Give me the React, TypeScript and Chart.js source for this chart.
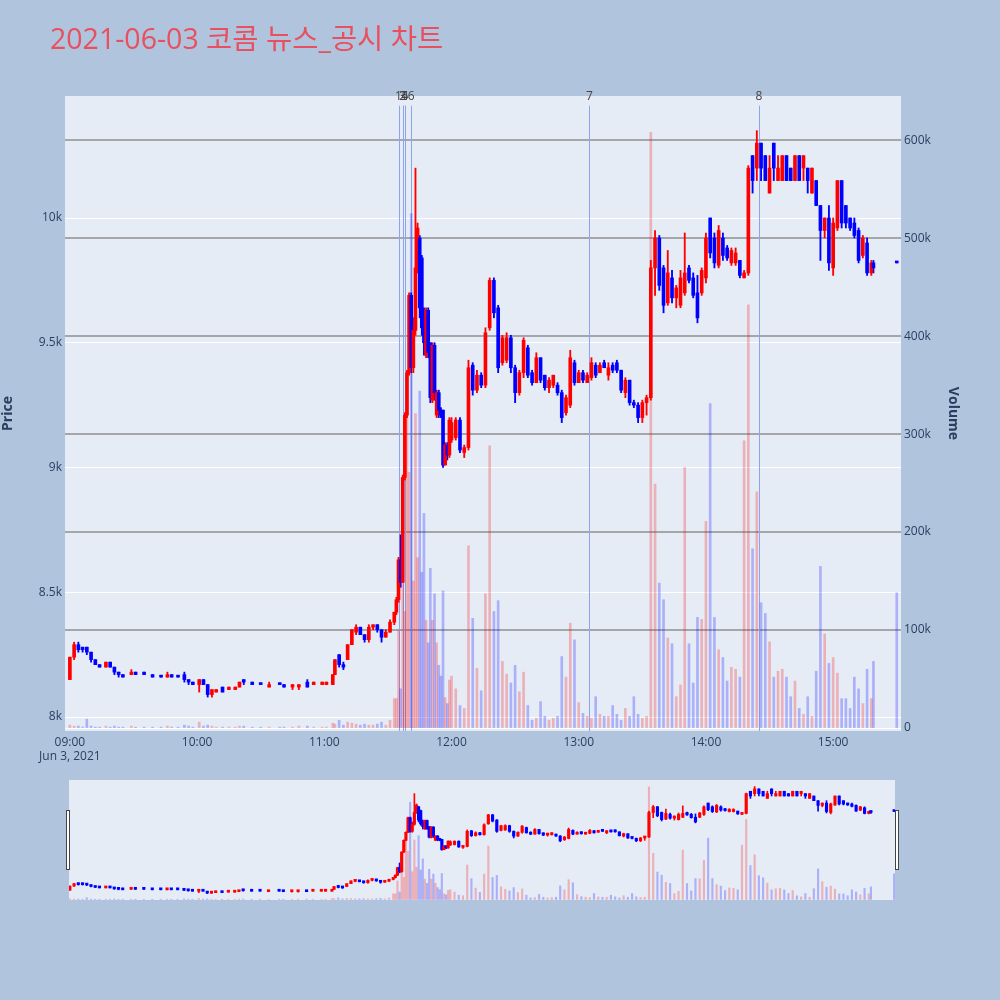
import { useEffect, useRef } from "react";
import { Chart, registerables } from "chart.js";

Chart.register(...registerables);

const titleText = "2021-06-03 코콤 뉴스_공시 차트";
const dateLabel = "Jun 3, 2021";

const times = [
  "09:00","09:02","09:04","09:06","09:08","09:10","09:12","09:14","09:17","09:19",
  "09:21","09:23","09:25","09:29","09:31","09:35","09:39","09:43","09:46","09:48",
  "09:51","09:54","09:56","09:58","10:01","10:03","10:05","10:07","10:09","10:12",
  "10:15","10:18","10:20","10:22","10:26","10:30","10:34","10:39","10:41","10:45",
  "10:48","10:52","10:55","10:59","11:01","11:04","11:05","11:07","11:09","11:11",
  "11:13","11:15","11:17","11:19","11:21","11:23","11:25","11:27","11:29","11:31",
  "11:33","11:34","11:35","11:36","11:37","11:38","11:39","11:40","11:41","11:42",
  "11:43","11:44","11:45","11:46","11:47","11:48","11:49","11:50","11:51","11:52",
  "11:53","11:54","11:55","11:56","11:57","11:58","11:59","12:00","12:02","12:04",
  "12:06","12:08","12:10","12:12","12:14","12:16","12:18","12:20","12:22","12:24",
  "12:26","12:28","12:30","12:32","12:34","12:36","12:38","12:40","12:42","12:44",
  "12:46","12:48","12:50","12:52","12:54","12:56","12:58","13:00","13:02","13:04",
  "13:06","13:08","13:10","13:12","13:14","13:16","13:18","13:20","13:22","13:24",
  "13:26","13:28","13:30","13:32","13:34","13:36","13:38","13:40","13:42","13:44",
  "13:46","13:48","13:50","13:52","13:54","13:56","13:58","14:00","14:02","14:04",
  "14:06","14:08","14:10","14:12","14:14","14:16","14:18","14:20","14:22","14:24",
  "14:26","14:28","14:30","14:32","14:34","14:36","14:38","14:40","14:42","14:44",
  "14:46","14:48","14:50","14:52","14:54","14:56","14:58","15:00","15:02","15:04",
  "15:06","15:08","15:10","15:12","15:14","15:16","15:18","15:19","15:30"
];

const opens = [
  8150,8240,8290,8280,8280,8260,8230,8210,8200,8220,
  8200,8180,8170,8170,8180,8180,8170,8160,8160,8170,
  8160,8170,8150,8140,8130,8150,8130,8090,8100,8120,
  8110,8110,8120,8150,8140,8130,8120,8130,8130,8120,
  8120,8140,8130,8130,8130,8130,8170,8250,8210,8230,
  8290,8340,8360,8330,8310,8360,8370,8350,8320,8340,
  8380,8420,8470,8630,8540,8960,9210,9380,9690,9400,
  9550,9800,9920,9840,9600,9450,9630,9500,9270,9490,
  9210,9300,9230,9230,9010,9090,9050,9110,9120,9190,
  9060,9080,9410,9310,9370,9330,9560,9750,9640,9420,
  9430,9520,9400,9300,9380,9480,9380,9340,9440,9370,
  9320,9330,9330,9300,9220,9250,9420,9340,9380,9340,
  9360,9410,9380,9420,9370,9410,9420,9390,9300,9350,
  9260,9250,9200,9260,9280,9800,9920,9800,9660,9760,
  9680,9650,9700,9800,9760,9700,9700,9760,10000,9920,
  9810,9920,9880,9820,9820,9830,9760,9780,10250,10200,
  10300,10250,10100,10300,10150,10150,10250,10200,10150,10250,
  10200,10200,10100,10150,10050,9950,10000,9800,9960,10150,
  10050,10000,9980,9950,9850,9900,9780,9820,9820
];

const highs = [
  8240,8300,8300,8280,8280,8260,8230,8210,8220,8220,
  8200,8180,8170,8190,8180,8180,8170,8160,8180,8170,
  8160,8180,8150,8140,8150,8150,8130,8110,8110,8120,
  8120,8120,8140,8150,8140,8130,8140,8130,8130,8130,
  8130,8150,8140,8140,8140,8170,8230,8250,8220,8290,
  8350,8370,8360,8330,8370,8370,8370,8350,8350,8390,
  8420,8480,8640,8730,8970,9220,9390,9700,9700,9600,
  10200,9980,9930,9850,9640,9640,9640,9500,9500,9500,
  9310,9310,9240,9230,9100,9100,9200,9200,9200,9200,
  9090,9430,9420,9390,9380,9560,9760,9760,9650,9530,
  9540,9530,9410,9390,9520,9490,9390,9460,9440,9370,
  9360,9370,9340,9310,9290,9470,9430,9390,9390,9380,
  9440,9420,9420,9430,9420,9420,9430,9390,9360,9350,
  9270,9260,9270,9290,9830,9950,9930,9810,9870,9790,
  9730,9790,9940,9810,9780,9770,9800,9940,10000,9940,
  9970,9940,9890,9880,9880,9830,9790,10210,10250,10350,
  10300,10250,10250,10300,10250,10250,10250,10200,10250,10250,
  10250,10200,10200,10150,10050,10000,10050,10000,10150,10150,
  10050,10000,10000,9960,9930,9920,9830,9830,9820
];

const lows = [
  8150,8230,8260,8260,8250,8220,8210,8200,8200,8200,
  8170,8160,8160,8170,8170,8170,8160,8160,8160,8160,
  8160,8140,8130,8130,8100,8130,8080,8080,8100,8100,
  8110,8110,8120,8130,8130,8130,8120,8130,8120,8110,
  8110,8120,8130,8130,8130,8130,8170,8200,8190,8230,
  8290,8330,8330,8300,8300,8350,8340,8300,8320,8340,
  8370,8410,8460,8520,8540,8950,9200,9370,9380,9380,
  9530,9780,9600,9530,9450,9440,9440,9260,9260,9270,
  9200,9200,9200,9000,9010,9030,9040,9100,9110,9060,
  9040,9070,9290,9300,9320,9320,9550,9600,9380,9410,
  9420,9380,9260,9290,9360,9360,9330,9340,9340,9310,
  9300,9320,9290,9180,9210,9240,9330,9340,9340,9340,
  9350,9360,9380,9400,9350,9380,9380,9300,9280,9250,
  9240,9180,9180,9210,9270,9690,9710,9620,9650,9660,
  9640,9640,9690,9740,9680,9580,9690,9740,9840,9800,
  9800,9830,9830,9810,9810,9760,9760,9770,10100,10150,
  10150,10150,10100,10150,10150,10150,10150,10150,10150,10150,
  10150,10100,10100,10050,9830,9920,9790,9770,9950,9960,
  9960,9950,9920,9820,9840,9770,9770,9780,9820
];

const closes = [
  8240,8290,8270,8270,8260,8230,8210,8200,8220,8200,
  8180,8170,8160,8180,8170,8170,8160,8160,8170,8160,
  8160,8150,8140,8130,8150,8130,8090,8110,8110,8100,
  8120,8120,8140,8140,8130,8130,8130,8130,8120,8130,
  8130,8120,8140,8140,8140,8170,8230,8210,8200,8290,
  8350,8360,8330,8310,8360,8370,8350,8320,8340,8380,
  8420,8470,8630,8540,8960,9210,9380,9690,9400,9550,
  9800,9960,9640,9560,9500,9630,9460,9280,9490,9300,
  9300,9230,9210,9010,9090,9050,9190,9180,9190,9070,
  9080,9400,9310,9370,9330,9540,9750,9620,9400,9520,
  9520,9400,9300,9380,9510,9370,9340,9440,9350,9320,
  9350,9370,9300,9200,9280,9440,9340,9380,9350,9370,
  9420,9370,9410,9400,9400,9390,9390,9310,9350,9260,
  9250,9200,9260,9280,9800,9920,9730,9650,9780,9680,
  9720,9760,9780,9750,9690,9600,9790,9920,9860,9820,
  9950,9850,9840,9870,9860,9770,9780,10200,10150,10300,
  10200,10150,10200,10200,10200,10250,10150,10150,10250,10150,
  10250,10150,10200,10050,9950,10000,9820,9980,10150,9980,
  9980,9960,9930,9830,9920,9780,9820,9800,9820
];

const volumes = [
  3000,2000,2000,1000,9000,2000,1000,1000,2000,1000,
  2000,1000,1000,2000,1000,1000,1000,1000,2000,1000,
  1000,3000,2000,1000,6000,2000,3000,2000,1000,1000,
  1000,1000,2000,2000,1000,1000,1000,1000,1000,1000,
  2000,2000,1000,1000,1000,5000,4000,8000,3000,6000,
  5000,4000,3000,4000,3000,3000,4000,6000,3000,8000,
  30000,30000,100000,40000,255000,119000,321000,261000,525000,150000,
  321000,174000,344000,159000,219000,110000,87000,163000,110000,137000,
  87000,64000,53000,140000,31000,25000,49000,53000,40000,23000,
  20000,186000,112000,61000,38000,137000,288000,119000,130000,68000,
  55000,46000,64000,37000,57000,23000,8000,10000,27000,12000,
  8000,10000,12000,73000,52000,107000,90000,26000,15000,12000,
  10000,32000,14000,12000,12000,23000,14000,8000,20000,12000,
  32000,14000,10000,12000,608000,249000,148000,131000,92000,86000,
  32000,44000,266000,86000,46000,113000,111000,211000,331000,113000,
  80000,72000,48000,62000,60000,52000,293000,432000,183000,241000,
  128000,117000,88000,52000,58000,60000,52000,32000,48000,20000,
  14000,32000,12000,58000,165000,96000,66000,72000,56000,30000,
  30000,20000,52000,40000,25000,60000,30000,68000,138000
];

const newsTimes = ["11:35", "11:37", "11:37", "11:38", "11:38", "11:41", "13:05", "14:25"];
const newsLabels = ["1", "2", "3", "4", "5", "6", "7", "8"];

const priceTicks = [8000, 8500, 9000, 9500, 10000];
const priceTickLabels = ["8k", "8.5k", "9k", "9.5k", "10k"];
const volumeTicks = [0, 100000, 200000, 300000, 400000, 500000, 600000];
const volumeTickLabels = ["0", "100k", "200k", "300k", "400k", "500k", "600k"];
const timeTicks = ["09:00", "10:00", "11:00", "12:00", "13:00", "14:00", "15:00"];

const FONT = '"Open Sans", "Noto Sans CJK KR", sans-serif';
const TICK_COLOR = "#2a3f5f";
const INC = "#ff0000";
const DEC = "#0000ff";
const INC_VOL = "rgba(255,0,0,0.25)";
const DEC_VOL = "rgba(0,0,255,0.25)";
const PLOT_BG = "#e5ecf6";
const NEWS_COLOR = "#8ca3ee";

const toMin = (s: string) => {
  const [h, m] = s.split(":").map(Number);
  return (h - 9) * 60 + m;
};

const PRICE_MIN = 7944;
const PRICE_MAX = 10489;
const VOL_MIN = -3000;
const VOL_MAX = 645000;
const NEWS_TOP_PRICE = 10450;

function buildDatasets(bodyW: number, wickW: number, volW: number) {
  const xs = times.map(toMin);
  const up = (i: number) => closes[i] > opens[i];
  return [
    {
      type: "bar" as const,
      label: "body",
      data: xs.map((x, i) => ({ x, y: [opens[i], closes[i]] })),
      backgroundColor: xs.map((_, i) => (up(i) ? INC : DEC)),
      barThickness: bodyW,
      minBarLength: 2,
      grouped: false,
      yAxisID: "y",
      order: 1,
    },
    {
      type: "bar" as const,
      label: "wick",
      data: xs.map((x, i) => ({ x, y: [lows[i], highs[i]] })),
      backgroundColor: xs.map((_, i) => (up(i) ? INC : DEC)),
      barThickness: wickW,
      grouped: false,
      yAxisID: "y",
      order: 2,
    },
    {
      type: "bar" as const,
      label: "volume",
      data: xs.map((x, i) => ({ x, y: volumes[i] })),
      backgroundColor: xs.map((_, i) => (up(i) ? INC_VOL : DEC_VOL)),
      barThickness: volW,
      grouped: false,
      yAxisID: "y1",
      order: 3,
    },
  ];
}

const bgPlugin = {
  id: "plotBg",
  beforeDraw(chart: any) {
    const { ctx, chartArea } = chart;
    ctx.save();
    ctx.fillStyle = PLOT_BG;
    ctx.fillRect(chartArea.left, chartArea.top, chartArea.right - chartArea.left, chartArea.bottom - chartArea.top);
    ctx.restore();
  },
};

const newsPlugin = {
  id: "news",
  beforeDatasetsDraw(chart: any) {
    const { ctx, chartArea, scales } = chart;
    const top = scales.y.getPixelForValue(NEWS_TOP_PRICE);
    ctx.save();
    ctx.globalAlpha = 1;
    ctx.fillStyle = NEWS_COLOR;
    newsTimes.forEach((t) => {
      const x = Math.round(scales.x.getPixelForValue(toMin(t)));
      ctx.fillRect(x, top, 1, chartArea.bottom - top);
    });
    ctx.restore();
  },
  afterDraw(chart: any) {
    const { ctx, scales } = chart;
    ctx.save();
    ctx.fillStyle = "#444";
    ctx.font = `12px ${FONT}`;
    ctx.textAlign = "center";
    ctx.textBaseline = "middle";
    newsTimes.forEach((t, i) => {
      const x = scales.x.getPixelForValue(toMin(t));
      ctx.fillText(newsLabels[i], x, 97);
    });
    ctx.restore();
  },
};

const titlePlugin = {
  id: "pageTitle",
  afterDraw(chart: any) {
    const { ctx } = chart;
    ctx.save();
    ctx.fillStyle = "#e8505f";
    ctx.font = `28.5px ${FONT}`;
    ctx.textAlign = "left";
    ctx.textBaseline = "middle";
    ctx.fillText(titleText, 50, 41);
    ctx.restore();
  },
};

const handlesPlugin = {
  id: "handles",
  afterDraw(chart: any) {
    const { ctx, chartArea } = chart;
    ctx.save();
    ctx.fillStyle = "#ffffff";
    ctx.strokeStyle = "#444";
    ctx.lineWidth = 1;
    const y0 = chartArea.top + 30;
    const h = 60;
    ctx.fillRect(chartArea.left - 3, y0, 4, h);
    ctx.strokeRect(chartArea.left - 2.5, y0 + 0.5, 3, h - 1);
    ctx.fillRect(chartArea.right, y0, 4, h);
    ctx.strokeRect(chartArea.right + 0.5, y0 + 0.5, 3, h - 1);
    ctx.restore();
  },
};

export default function App() {
  const mainRef = useRef<HTMLCanvasElement | null>(null);
  const sliderRef = useRef<HTMLCanvasElement | null>(null);

  useEffect(() => {
    if (!mainRef.current || !sliderRef.current) return;
    const tickFont = { family: FONT, size: 12 };
    const main = new Chart(mainRef.current, {
      type: "bar",
      data: { datasets: buildDatasets(3, 1.2, 2) as any },
      options: {
        responsive: false,
        animation: false,
        layout: { padding: { left: 0, right: 39, top: 96, bottom: 0 } },
        plugins: { legend: { display: false }, tooltip: { enabled: false }, title: { display: false } },
        scales: {
          x: {
            type: "linear",
            offset: false,
            min: -2.3,
            max: 392,
            grid: { display: false, drawTicks: false },
            border: { display: false },
            afterBuildTicks: (s: any) => {
              s.ticks = timeTicks.map((t) => ({ value: toMin(t) }));
            },
            afterFit: (s: any) => {
              s.height = 44;
            },
            ticks: {
              autoSkip: false,
              maxRotation: 0,
              padding: 4,
              color: TICK_COLOR,
              font: tickFont,
              callback: (_v: any, i: number) => (i === 0 ? [timeTicks[0], dateLabel] : timeTicks[i]),
            },
          },
          y: {
            type: "linear",
            position: "left",
            min: PRICE_MIN,
            max: PRICE_MAX,
            grid: { color: "#ffffff", lineWidth: 1, drawTicks: false },
            border: { display: false },
            afterBuildTicks: (s: any) => {
              s.ticks = priceTicks.map((v) => ({ value: v }));
            },
            afterFit: (s: any) => {
              s.width = 65;
            },
            ticks: {
              padding: 3,
              color: TICK_COLOR,
              font: tickFont,
              callback: (_v: any, i: number) => priceTickLabels[i],
            },
            title: {
              display: true,
              text: "Price",
              color: TICK_COLOR,
              font: { family: FONT, size: 14, weight: "bold" },
              padding: 0,
            },
          },
          y1: {
            type: "linear",
            position: "right",
            min: VOL_MIN,
            max: VOL_MAX,
            grid: {
              color: (c: any) => (c.tick && c.tick.value === 0 ? "#ffffff" : "rgba(120,120,120,0.6)"),
              lineWidth: (c: any) => (c.tick && c.tick.value === 0 ? 1 : 2),
              drawTicks: false,
            },
            border: { display: false },
            afterBuildTicks: (s: any) => {
              s.ticks = volumeTicks.map((v) => ({ value: v }));
            },
            afterFit: (s: any) => {
              s.width = 60;
            },
            ticks: {
              padding: 3,
              color: TICK_COLOR,
              font: tickFont,
              callback: (_v: any, i: number) => volumeTickLabels[i],
            },
            title: {
              display: true,
              text: "Volume",
              color: TICK_COLOR,
              font: { family: FONT, size: 14, weight: "bold" },
              padding: 0,
            },
          },
        },
      } as any,
      plugins: [bgPlugin, newsPlugin, titlePlugin],
    });

    const slider = new Chart(sliderRef.current, {
      type: "bar",
      data: { datasets: buildDatasets(2.5, 1, 1.5) as any },
      options: {
        responsive: false,
        animation: false,
        layout: { padding: { left: 9, right: 11, top: 5, bottom: 5 } },
        plugins: { legend: { display: false }, tooltip: { enabled: false }, title: { display: false } },
        scales: {
          x: { type: "linear", offset: false, min: -0.4, max: 390.4, display: false },
          y: { type: "linear", min: PRICE_MIN, max: PRICE_MAX, display: false },
          y1: { type: "linear", min: VOL_MIN, max: VOL_MAX, display: false },
        },
      } as any,
      plugins: [bgPlugin, handlesPlugin],
    });

    return () => {
      main.destroy();
      slider.destroy();
    };
  }, []);

  return (
    <div style={{ position: "absolute", left: 0, top: 0, width: 1000, height: 1000, background: "#b0c4de", overflow: "hidden" }}>
      <canvas ref={mainRef} width={1000} height={775} style={{ position: "absolute", left: 0, top: 0 }} />
      <canvas ref={sliderRef} width={846} height={130} style={{ position: "absolute", left: 60, top: 775 }} />
    </div>
  );
}
